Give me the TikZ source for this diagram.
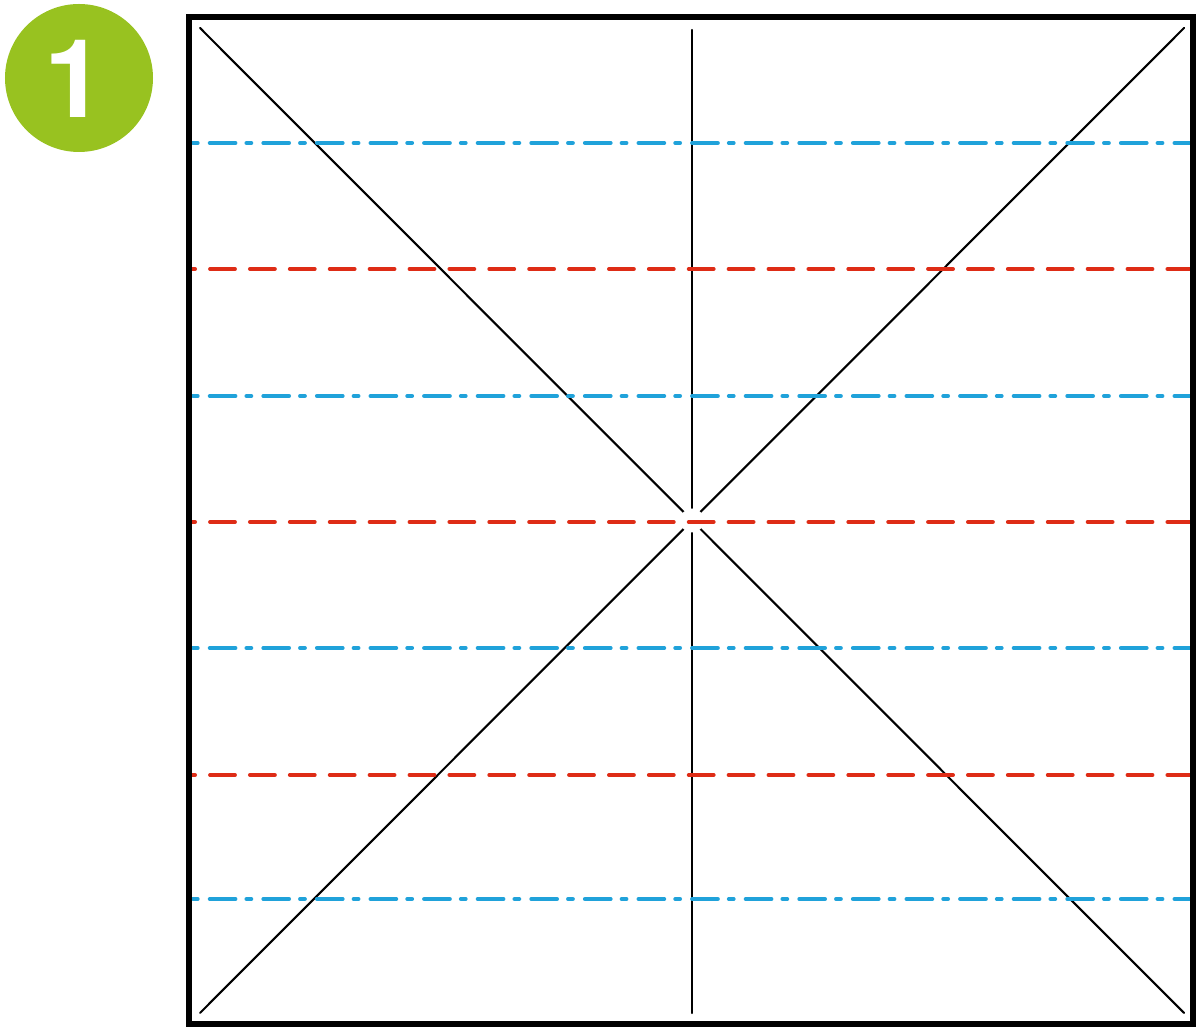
\documentclass[tikz,border=0pt]{standalone}
\usepackage{fontspec}
\setmainfont{Liberation Sans}
\newfontfamily\badgefont{TeX Gyre Heros}

\definecolor{badgegreen}{RGB}{152,194,32}
\definecolor{foldblue}{RGB}{32,162,218}
\definecolor{foldred}{RGB}{222,44,22}

\tikzset{
  valley/.style={foldblue, line width=2.2pt,
    dash pattern=on 14.7pt off 6.2pt on 2.8pt off 6.8pt, dash phase=19.3pt},
  mountain/.style={foldred, line width=2.2pt,
    dash pattern=on 14.2pt off 8.5pt, dash phase=11.3pt},
  crease/.style={black, line width=1.2pt}
}

\begin{document}
\begin{tikzpicture}[x=2cm, y=2cm, line cap=round, line join=round]
\useasboundingbox (0,0) rectangle (11.96,10.36);

% Step badge
\fill[badgegreen] (0.79,9.58) circle (0.74);
\node[text=white, font=\badgefont\bfseries\fontsize{62}{62}\selectfont, inner sep=0pt]
    (stepno) at (0.75,9.57) {1};

% Corner and centre points of the sheet
\coordinate (tl) at (2.00,10.08);
\coordinate (tr) at (11.84,10.08);
\coordinate (bl) at (2.00,0.23);
\coordinate (br) at (11.84,0.23);
\coordinate (ctr) at (6.92,5.155);

% Diagonal and vertical creases
\draw[crease] (tl) -- (br);
\draw[crease] (tr) -- (bl);
\draw[crease] (6.92,10.06) -- (6.92,0.23);

% Small gap where the creases meet
\fill[white] (ctr) circle (0.12);

% Valley folds (blue dash-dot)
\foreach \y in {8.93,6.40,3.88,1.37}
  \draw[valley] (1.90,\y) -- (11.93,\y);

% Mountain folds (red dashed)
\foreach \y in {7.67,5.14,2.61}
  \draw[mountain] (1.90,\y) -- (11.93,\y);

% Sheet outline
\draw[line width=3pt, line cap=butt, line join=miter]
    (1.89,10.19) rectangle (11.93,0.12);

\end{tikzpicture}
\end{document}
